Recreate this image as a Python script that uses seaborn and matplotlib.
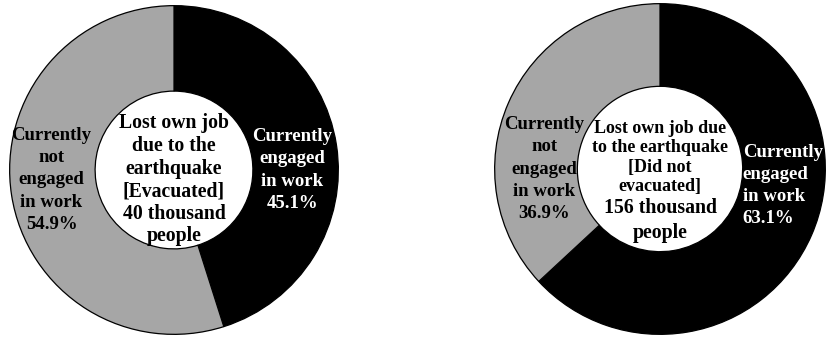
import matplotlib
matplotlib.use("Agg")
import matplotlib.pyplot as plt
import seaborn as sns

sns.set_theme(style="white")
plt.rcParams["font.family"] = ["Liberation Serif", "DejaVu Serif"]
plt.rcParams["font.weight"] = "bold"

# Shares of people who lost their job due to the earthquake
categories = ["Currently engaged in work", "Currently not engaged in work"]
evacuated_share = [45.1, 54.9]
not_evacuated_share = [63.1, 36.9]
slice_colors = ["#000000", "#a6a6a6"]

W, H = 827, 340
fig = plt.figure(figsize=(W / 100, H / 100), dpi=100)
fig.patch.set_facecolor("white")


def donut(rect_px, values, hole):
    x0, y0, w, h = rect_px
    ax = fig.add_axes([x0 / W, y0 / H, w / W, h / H])
    ax.pie(values, colors=slice_colors, startangle=90, counterclock=False,
           radius=1.0,
           wedgeprops=dict(width=1.0 - hole, edgecolor="black", linewidth=0.9))
    ax.set_xlim(-1.01, 1.01)
    ax.set_ylim(-1.01, 1.01)
    ax.set_aspect("equal")
    ax.axis("off")
    return ax


def pct(v):
    return f"{v:.1f}%"


# Evacuated
ax1 = donut((8, 4, 332, 332), evacuated_share, 0.48)
ax1.text(0.0, -0.06,
         "Lost own job\ndue to the\nearthquake\n[Evacuated]\n40 thousand\npeople",
         ha="center", va="center", fontsize=14.2, fontweight="bold",
         color="black", linespacing=1.17)
ax1.text(0.72, 0.0, "Currently\nengaged\nin work\n" + pct(evacuated_share[0]),
         ha="center", va="center", fontsize=13.5, fontweight="bold",
         color="white", linespacing=1.4)
ax1.text(-0.745, -0.06, "Currently\nnot\nengaged\nin work\n" + pct(evacuated_share[1]),
         ha="center", va="center", fontsize=13.5, fontweight="bold",
         color="black", linespacing=1.4)

# Did not evacuate
ax2 = donut((493, 4, 334, 334), not_evacuated_share, 0.50)
ax2.text(0.0, 0.07, "Lost own job due\nto the earthquake\n[Did not\nevacuated]",
         ha="center", va="center", fontsize=13, fontweight="bold",
         color="black", linespacing=1.2)
ax2.text(0.0, -0.31, "156 thousand\npeople",
         ha="center", va="center", fontsize=14.3, fontweight="bold",
         color="black", linespacing=1.3)
ax2.text(0.50, -0.10, "Currently\nengaged\nin work\n" + pct(not_evacuated_share[0]),
         ha="left", va="center", fontsize=13.5, fontweight="bold",
         color="white", linespacing=1.4)
ax2.text(-0.70, 0.0, "Currently\nnot\nengaged\nin work\n" + pct(not_evacuated_share[1]),
         ha="center", va="center", fontsize=13.5, fontweight="bold",
         color="black", linespacing=1.4)

fig.savefig("out.png", dpi=100, facecolor="white")
